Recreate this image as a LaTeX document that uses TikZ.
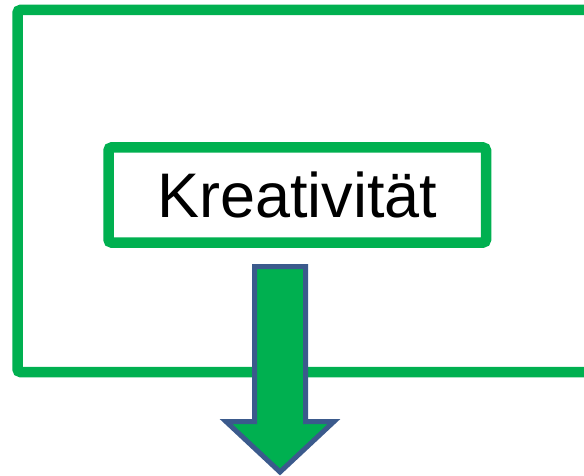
\documentclass[tikz,border=0pt]{standalone}
\usepackage{fontspec}
\setmainfont{Liberation Sans}
\definecolor{pgreen}{HTML}{00B050}
\definecolor{pblue}{HTML}{3B5A8C}
\begin{document}
\begin{tikzpicture}[x=1pt,y=-1pt,
  greenframe/.style={draw=pgreen,line width=10.5pt,rounded corners=3pt},
  labelbox/.style={greenframe,fill=white,minimum width=377.5pt,minimum height=95pt,inner sep=0pt,font=\fontsize{63}{70}\selectfont},
  blockarrow/.style={fill=pgreen,draw=pblue,line width=5pt,line join=miter}]
\useasboundingbox (0,0) rectangle (584,476);
\begin{scope}
\clip (0,0) rectangle (584,476);
\draw[greenframe] (17.5,10) rectangle (620,372);
\end{scope}
\node[labelbox] (k) at (297.25,195) {Kreativität};
\draw[blockarrow] (254.5,266.5) -- (305.5,266.5) -- (305.5,421.5) -- (334,421.5)
  -- (280,472) -- (226,421.5) -- (254.5,421.5) -- cycle;
\end{tikzpicture}
\end{document}
